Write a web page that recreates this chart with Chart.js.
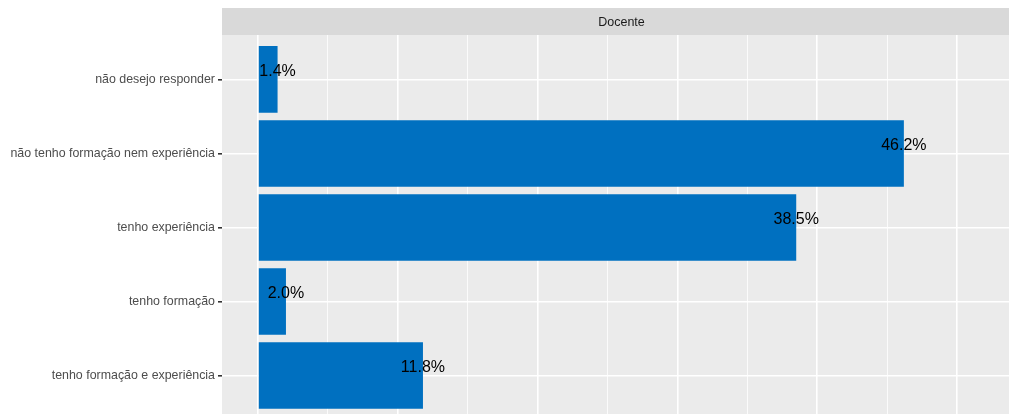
<!DOCTYPE html>
<html>
<head>
<meta charset="utf-8">
<script src="https://cdn.jsdelivr.net/npm/chart.js@4"></script>
<style>
  html, body { margin: 0; padding: 0; background: #fff; }
  #wrap { width: 1009px; height: 414px; }
</style>
</head>
<body>
<div id="wrap"><canvas id="docenteChart"></canvas></div>
<script>
const categories = [
  'não desejo responder',
  'não tenho formação nem experiência',
  'tenho experiência',
  'tenho formação',
  'tenho formação e experiência'
];
const percentages = [1.4, 46.2, 38.5, 2.0, 11.8];
const facetTitle = 'Docente';
const xTicks = [0, 5, 10, 15, 20, 25, 30, 35, 40, 45, 50];

const barData = percentages.map((v, i) => ({ x: v, y: i }));

// ggplot-like panel background + facet strip
const panelPlugin = {
  id: 'panelPlugin',
  beforeDraw(chart) {
    const { ctx, chartArea } = chart;
    ctx.save();
    ctx.fillStyle = '#EBEBEB';
    ctx.fillRect(chartArea.left, chartArea.top, chartArea.right - chartArea.left, chartArea.bottom - chartArea.top);
    ctx.fillStyle = '#D9D9D9';
    ctx.fillRect(chartArea.left, 8, chartArea.right - chartArea.left, chartArea.top - 8);
    ctx.fillStyle = '#1A1A1A';
    ctx.font = '12.5px "Liberation Sans", Arial, sans-serif';
    ctx.textAlign = 'center';
    ctx.textBaseline = 'middle';
    ctx.fillText(facetTitle, (chartArea.left + chartArea.right) / 2 + 6, (8 + chartArea.top) / 2 + 1);
    ctx.restore();
  }
};

// percentage labels at the bar ends
const labelPlugin = {
  id: 'labelPlugin',
  afterDatasetsDraw(chart) {
    const { ctx } = chart;
    const xs = chart.scales.x, ys = chart.scales.y;
    ctx.save();
    ctx.fillStyle = '#000';
    ctx.font = '16px "Liberation Sans", Arial, sans-serif';
    ctx.textAlign = 'center';
    ctx.textBaseline = 'middle';
    percentages.forEach((v, i) => {
      ctx.fillText(v.toFixed(1) + '%', xs.getPixelForValue(v), ys.getPixelForValue(i) - 8);
    });
    ctx.restore();
  }
};

new Chart(document.getElementById('docenteChart').getContext('2d'), {
  type: 'bar',
  data: {
    datasets: [{
      data: barData,
      backgroundColor: '#0070C0',
      borderWidth: 0,
      categoryPercentage: 1,
      barPercentage: 0.9
    }]
  },
  plugins: [panelPlugin, labelPlugin],
  options: {
    indexAxis: 'y',
    responsive: true,
    maintainAspectRatio: false,
    animation: false,
    layout: { padding: { top: 35, right: 0, bottom: 0, left: 0 } },
    plugins: {
      legend: { display: false },
      tooltip: { enabled: false }
    },
    scales: {
      x: {
        type: 'linear',
        min: -2.575,
        max: 53.72,
        afterBuildTicks: s => { s.ticks = xTicks.map(v => ({ value: v })); },
        afterFit: s => { s.height = 0; s.paddingLeft = 0; s.paddingRight = 0; },
        border: { display: false },
        ticks: { display: false },
        grid: {
          color: '#FFFFFF',
          lineWidth: c => (c.tick && c.tick.value % 10 === 0) ? 1.6 : 0.8,
          drawTicks: false
        }
      },
      y: {
        type: 'linear',
        reverse: true,
        offset: false,
        min: -0.6,
        max: 4.52,
        afterBuildTicks: s => { s.ticks = categories.map((c, i) => ({ value: i })); },
        afterFit: s => { s.width = 222; s.paddingTop = 0; s.paddingBottom = 0; },
        border: { display: false },
        ticks: {
          color: '#4D4D4D',
          padding: 3,
          font: { family: '"Liberation Sans", Arial, sans-serif', size: 12.4 },
          callback: v => categories[v]
        },
        grid: {
          offset: false,
          color: '#FFFFFF',
          lineWidth: 1.6,
          tickColor: '#333333',
          tickLength: 4
        }
      }
    }
  }
});
</script>
</body>
</html>
